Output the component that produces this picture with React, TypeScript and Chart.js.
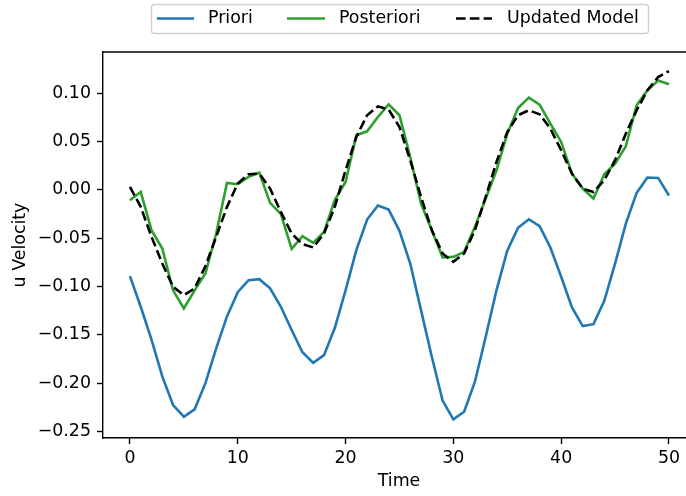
import React, { useEffect, useRef } from "react";
import { Chart, registerables } from "chart.js";

Chart.register(...registerables);

// Time steps and the three velocity series
const timeSteps = [
  0, 1, 2, 3, 4, 5, 6, 7, 8, 9, 10, 11, 12, 13, 14, 15, 16, 17, 18, 19, 20, 21, 22, 23, 24, 25,
  26, 27, 28, 29, 30, 31, 32, 33, 34, 35, 36, 37, 38, 39, 40, 41, 42, 43, 44, 45, 46, 47, 48, 49, 50,
];

const priori = [
  -0.0894, -0.121, -0.155, -0.193, -0.2226, -0.2347, -0.227, -0.2, -0.164, -0.131, -0.106,
  -0.0935, -0.0925, -0.102, -0.121, -0.145, -0.168, -0.179, -0.171, -0.143, -0.104, -0.0625,
  -0.0308, -0.0163, -0.0205, -0.0425, -0.0763, -0.1245, -0.1727, -0.218, -0.2374, -0.2295,
  -0.1985, -0.152, -0.104, -0.063, -0.0394, -0.0305, -0.0377, -0.0597, -0.09, -0.1217, -0.141,
  -0.139, -0.1148, -0.0763, -0.035, -0.0033, 0.0126, 0.0122, -0.006,
];

const posteriori = [
  -0.0108, -0.0023, -0.0418, -0.0608, -0.104, -0.1228, -0.104, -0.0866, -0.0453, 0.0071, 0.0057,
  0.0133, 0.0177, -0.0136, -0.0253, -0.0611, -0.048, -0.055, -0.0436, -0.0108, 0.008, 0.0563,
  0.0604, 0.0752, 0.0883, 0.077, 0.0339, -0.0143, -0.0418, -0.07, -0.0694, -0.0642, -0.0384,
  -0.0091, 0.0201, 0.058, 0.0845, 0.0952, 0.088, 0.0684, 0.0494, 0.0167, 0.0012, -0.0091, 0.016,
  0.027, 0.045, 0.0873, 0.1028, 0.113, 0.109,
];

const updatedModel = [
  0.003, -0.0177, -0.0487, -0.0763, -0.1004, -0.109, -0.102, -0.079, -0.0487, -0.0177, 0.0064,
  0.016, 0.0167, 0.0012, -0.023, -0.0453, -0.0563, -0.0597, -0.0453, -0.0177, 0.02, 0.0546,
  0.077, 0.0862, 0.0828, 0.0649, 0.0305, -0.0074, -0.0418, -0.0659, -0.0746, -0.0659, -0.0418,
  -0.0074, 0.0287, 0.0597, 0.077, 0.0821, 0.078, 0.0632, 0.0408, 0.0167, 0.0012, -0.0023, 0.0098,
  0.0305, 0.058, 0.0821, 0.1028, 0.1165, 0.1227,
];

const seriesLabels = ["Priori", "Posteriori", "Updated Model"];
const xTickValues = [0, 10, 20, 30, 40, 50];
const yTickValues = [-0.25, -0.2, -0.15, -0.1, -0.05, 0, 0.05, 0.1];

const FONT = "DejaVu Sans";
const FONT_SIZE = 17.4;
const BLUE = "#1f77b4";
const GREEN = "#2ca02c";
const LINE_W = 2.6;
const DASH = [9.6, 4.2];
const SPINE_W = 1.4;

const toPoints = (ys: number[]) => ys.map((y, i) => ({ x: timeSteps[i], y }));

const formatTick = (v: number) => {
  const s = Math.abs(v).toFixed(2);
  return v < -1e-9 ? "\u2212" + s : s;
};

// Top spine, axis titles and the framed legend above the plot
const decorations = {
  id: "decorations",
  afterDraw(chart: any) {
    const { ctx, chartArea } = chart;
    ctx.save();
    ctx.strokeStyle = "#000";
    ctx.lineWidth = SPINE_W;
    ctx.beginPath();
    ctx.moveTo(chartArea.left - SPINE_W / 2, chartArea.top);
    ctx.lineTo(chartArea.right, chartArea.top);
    ctx.stroke();

    ctx.fillStyle = "#000";
    ctx.font = `${FONT_SIZE}px "${FONT}"`;
    ctx.textAlign = "center";
    ctx.textBaseline = "middle";
    ctx.fillText("Time", 399, 481);

    ctx.save();
    ctx.translate(20, 245);
    ctx.rotate(-Math.PI / 2);
    ctx.fillText("u Velocity", 0, 0);
    ctx.restore();

    // legend frame
    const bx = 151.5, by = 4.5, bw = 497, bh = 29, r = 3;
    ctx.beginPath();
    ctx.moveTo(bx + r, by);
    ctx.lineTo(bx + bw - r, by);
    ctx.quadraticCurveTo(bx + bw, by, bx + bw, by + r);
    ctx.lineTo(bx + bw, by + bh - r);
    ctx.quadraticCurveTo(bx + bw, by + bh, bx + bw - r, by + bh);
    ctx.lineTo(bx + r, by + bh);
    ctx.quadraticCurveTo(bx, by + bh, bx, by + bh - r);
    ctx.lineTo(bx, by + r);
    ctx.quadraticCurveTo(bx, by, bx + r, by);
    ctx.closePath();
    ctx.fillStyle = "rgba(255,255,255,0.8)";
    ctx.fill();
    ctx.strokeStyle = "#d0d0d0";
    ctx.lineWidth = 1.4;
    ctx.stroke();

    const entries = [
      { x0: 157, x1: 194, tx: 208, color: BLUE, dash: [] as number[] },
      { x0: 287, x1: 325, tx: 339, color: GREEN, dash: [] as number[] },
      { x0: 456, x1: 492, tx: 507, color: "#000", dash: DASH },
    ];
    const ly = 18.5;
    entries.forEach((e, i) => {
      ctx.beginPath();
      ctx.setLineDash(e.dash);
      ctx.strokeStyle = e.color;
      ctx.lineWidth = LINE_W;
      ctx.moveTo(e.x0, ly);
      ctx.lineTo(e.x1, ly);
      ctx.stroke();
      ctx.setLineDash([]);
      ctx.fillStyle = "#000";
      ctx.textAlign = "left";
      ctx.textBaseline = "middle";
      ctx.fillText(seriesLabels[i], e.tx, ly);
    });
    ctx.restore();
  },
};

export default function App() {
  const canvasRef = useRef<HTMLCanvasElement | null>(null);

  useEffect(() => {
    if (!canvasRef.current) return;
    const axisCommon = {
      grid: {
        display: true,
        drawOnChartArea: false,
        drawTicks: true,
        tickLength: 6,
        tickWidth: SPINE_W,
        tickColor: "#000",
      },
      border: { display: true, color: "#000", width: SPINE_W },
    };
    const chart = new Chart(canvasRef.current, {
      type: "line",
      data: {
        datasets: [
          {
            label: seriesLabels[0],
            data: toPoints(priori),
            borderColor: BLUE,
            borderWidth: LINE_W,
            pointRadius: 0,
            tension: 0,
            order: 2,
          },
          {
            label: seriesLabels[1],
            data: toPoints(posteriori),
            borderColor: GREEN,
            borderWidth: LINE_W,
            pointRadius: 0,
            tension: 0,
            order: 1,
          },
          {
            label: seriesLabels[2],
            data: toPoints(updatedModel),
            borderColor: "#000",
            borderWidth: LINE_W,
            borderDash: DASH,
            pointRadius: 0,
            tension: 0,
            order: 0,
          },
        ],
      },
      options: {
        responsive: false,
        animation: false,
        devicePixelRatio: 1,
        layout: { padding: { top: 52, right: 0, left: 0, bottom: 0 } },
        plugins: { legend: { display: false }, tooltip: { enabled: false } },
        scales: {
          x: {
            type: "linear",
            min: -2.5,
            max: 51.58,
            ...axisCommon,
            afterBuildTicks: (s: any) => {
              s.ticks = xTickValues.map((v) => ({ value: v }));
            },
            afterFit: (s: any) => {
              s.height = 58;
            },
            ticks: {
              color: "#000",
              padding: 4,
              maxRotation: 0,
              font: { family: FONT, size: FONT_SIZE },
              callback: (v: any) => String(v),
            },
          },
          y: {
            type: "linear",
            min: -0.2567,
            max: 0.1424,
            ...axisCommon,
            afterBuildTicks: (s: any) => {
              s.ticks = yTickValues.map((v) => ({ value: v }));
            },
            afterFit: (s: any) => {
              s.width = 103;
            },
            ticks: {
              color: "#000",
              padding: 6,
              font: { family: FONT, size: FONT_SIZE },
              callback: (v: any) => formatTick(Number(v)),
            },
          },
        },
      },
      plugins: [decorations],
    } as any);
    return () => chart.destroy();
  }, []);

  return (
    <div style={{ position: "absolute", left: 0, top: 0, width: 686, height: 496, background: "#fff" }}>
      <canvas ref={canvasRef} width={686} height={496} style={{ display: "block" }} />
    </div>
  );
}
